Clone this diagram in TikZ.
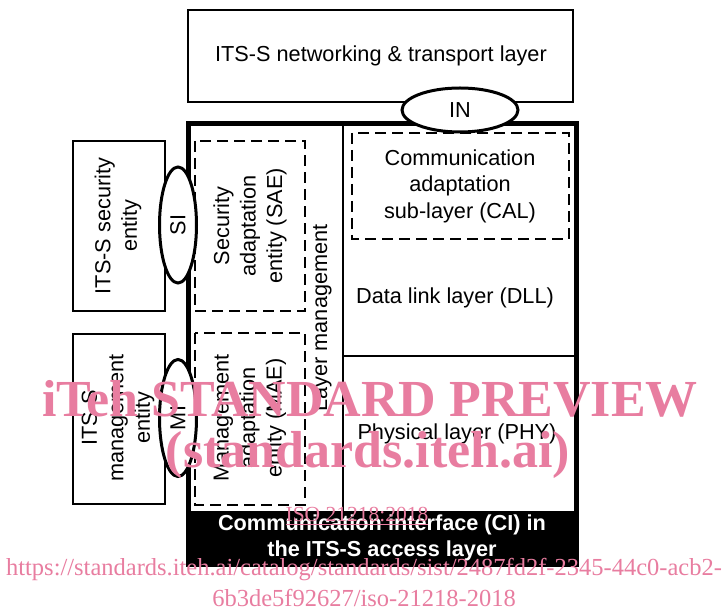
\documentclass[tikz,border=0pt]{standalone}
\usepackage{fontspec}
\setmainfont{Liberation Sans}
\newfontfamily\wmfont{Liberation Serif}
\usetikzlibrary{shapes.geometric}
\definecolor{wmpink}{RGB}{232,125,160}
\tikzset{
  thinbox/.style={draw, line width=1.4pt},
  dashbox/.style={draw, line width=1.4pt, dash pattern=on 11pt off 6pt},
  oval/.style={draw, line width=3pt, fill=white, ellipse, inner sep=0pt},
  lbl/.style={font=\fontsize{21.7}{26.5}\selectfont, align=center, inner sep=0pt},
  wm/.style={text=wmpink, font=\wmfont, inner sep=0pt},
}
\begin{document}
\begin{tikzpicture}[x=1pt,y=-1pt]
\useasboundingbox (0,0) rectangle (724,612);
% top box
\draw[thinbox] (188,10) rectangle (573,102);
\node[lbl] (ntl) at (381,56) {ITS-S networking \& transport layer};
% main box
\fill[black] (188,511) rectangle (576,565);
\draw[line width=1.4pt] (343,124) -- (343,511);
\draw[line width=1.4pt] (343,356) -- (576,356);
\draw[line width=5pt] (188,124) rectangle (576,565);
% CAL
\draw[dashbox] (352,133) rectangle (569,239);
\node[lbl] (cal) at (460,186) {Communication\\adaptation\\sub-layer (CAL)};
\node[lbl] (dll) at (455,298) {Data link layer (DLL)};
\node[lbl] (phy) at (457,434) {Physical layer (PHY)};
% SAE / MAE
\draw[dashbox] (195,141) rectangle (305,311);
\node[lbl, rotate=90] (sae) at (250,226) {Security\\adaptation\\entity (SAE)};
\draw[dashbox] (195,333) rectangle (305,505);
\node[lbl, rotate=90] (mae) at (250,418) {Management\\adaptation\\entity (MAE)};
\node[lbl, rotate=90] (lm) at (322,318) {Layer management};
% CI
\node[lbl, text=white, font=\fontsize{21.7}{26}\selectfont\bfseries] (ci) at (382,538) {Communication interface (CI) in\\the ITS-S access layer};
% left boxes
\draw[thinbox] (73,141) rectangle (165,311);
\node[lbl, rotate=90] (sec) at (118,226) {ITS-S security\\entity};
\draw[thinbox] (73,334) rectangle (165,504);
\node[lbl, rotate=90] (mgmt) at (118,418) {ITS-S\\management\\entity};
% ellipses
\node[oval, minimum width=116pt, minimum height=44pt] (in) at (460,110) {};
\node[lbl] at (in) {IN};
\node[oval, minimum width=37pt, minimum height=116pt] (si) at (178,225) {};
\node[lbl, rotate=90] at (si) {SI};
\node[oval, minimum width=37pt, minimum height=117pt] (mi) at (178,418) {};
\node[lbl, rotate=90] at (mi) {MI};
% watermark
\node[wm, font=\wmfont\bfseries\fontsize{52}{56}\selectfont] (w1) at (370,399) {iTeh STANDARD PREVIEW};
\node[wm, font=\wmfont\bfseries\fontsize{52}{56}\selectfont] (w2) at (368,455) {(standards.iteh.ai)};
\node[wm, font=\wmfont\fontsize{21.5}{24}\selectfont] (w3) at (357,516) {\underline{ISO 21218:2018}};
\node[wm, font=\wmfont\fontsize{24.5}{28}\selectfont] (w4) at (364,570) {https://standards.iteh.ai/catalog/standards/sist/2487fd2f-2345-44c0-acb2-};
\node[wm, font=\wmfont\fontsize{24.5}{28}\selectfont] (w5) at (364,598) {6b3de5f92627/iso-21218-2018};
\end{tikzpicture}
\end{document}
